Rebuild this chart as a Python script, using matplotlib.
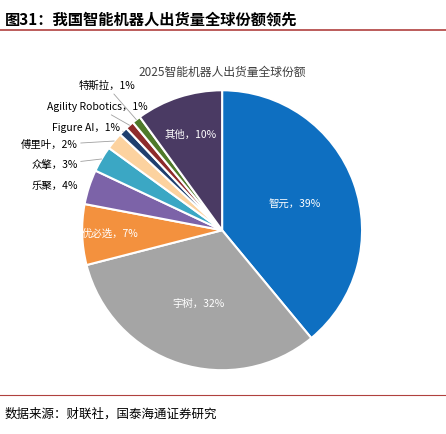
import numpy as np
import matplotlib
matplotlib.use("Agg")
import matplotlib.pyplot as plt

plt.rcParams['font.family'] = ['Noto Sans CJK SC', 'DejaVu Sans']

LABELS = ["智元", "宇树", "优必选", "乐聚", "众擎", "傅里叶", "Figure AI",
          "Agility Robotics", "特斯拉", "其他"]
SHARES = [39, 32, 7, 4, 3, 2, 1, 1, 1, 10]
COLORS = ["#0e6fc1", "#a5a5a5", "#f3913e", "#7c63a8", "#3ba7c4", "#fcd29f",
          "#1f3f6e", "#8e2b2b", "#4f7a2a", "#4a3a63"]
INSIDE = {"智元", "宇树", "优必选", "其他"}
OUTSIDE_POS = {"乐聚": (-1.03, 0.32), "众擎": (-1.03, 0.47), "傅里叶": (-1.03, 0.61),
               "Figure AI": (-0.73, 0.73), "Agility Robotics": (-0.53, 0.88),
               "特斯拉": (-0.62, 1.03)}

fig = plt.figure(figsize=(4.46, 4.34), dpi=100)
fig.text(0.01, 0.955, "图31：我国智能机器人出货量全球份额领先", fontsize=11,
         fontweight="bold", va="center")
fig.add_artist(plt.Line2D([0, 1], [0.932, 0.932], color="#b0413e", lw=1.2))
fig.add_artist(plt.Line2D([0, 1], [0.09, 0.09], color="#b0413e", lw=0.8))
fig.text(0.01, 0.045, "数据来源：财联社，国泰海通证券研究", fontsize=9, va="center")

ax = fig.add_axes([0.184, 0.147, 0.628, 0.645])
wedges, _ = ax.pie(SHARES, colors=COLORS, startangle=90, counterclock=False,
                   wedgeprops=dict(edgecolor="white", linewidth=1.5))
ax.set_aspect("equal")
ax.set_xlim(-1, 1)
ax.set_ylim(-1, 1)

for w, lab, s in zip(wedges, LABELS, SHARES):
    ang = np.deg2rad((w.theta1 + w.theta2) / 2)
    txt = f"{lab}，{s}%"
    if lab in INSIDE:
        r = 0.55 if lab in ("智元", "宇树") else 0.8
        if lab == "其他":
            r = 0.72
        ax.text(r * np.cos(ang), r * np.sin(ang), txt, color="white", fontsize=7.5,
                ha="center", va="center")
    elif lab == "乐聚":
        tx, ty = OUTSIDE_POS[lab]
        ax.text(tx, ty, txt, fontsize=7.5, ha="right", va="center")
    else:
        tx, ty = OUTSIDE_POS[lab]
        ax.annotate(txt, xy=(1.0 * np.cos(ang), 1.0 * np.sin(ang)), xytext=(tx, ty),
                    fontsize=7.5, ha="right", va="center",
                    arrowprops=dict(arrowstyle="-", color="#a0a0a0", lw=0.6,
                                    shrinkA=0, shrinkB=0))

ax.text(0, 1.13, "2025智能机器人出货量全球份额", fontsize=8.5, ha="center",
        va="center", color="#404040")

fig.savefig("out.png", dpi=100)
